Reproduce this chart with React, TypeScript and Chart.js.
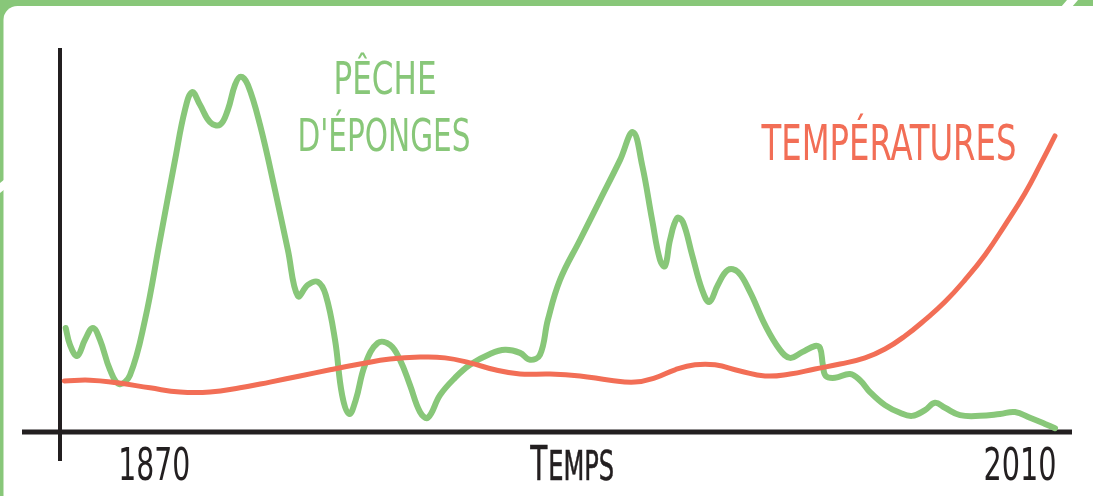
import React, { useEffect, useRef } from "react";
import { Chart, registerables } from "chart.js";

Chart.register(...registerables);

// ---- Data (time in years, values in arbitrary index units 0–100) ----
const spongeYears = [
  1870.8, 1871.4, 1872.4, 1873.5, 1874.6, 1875.6, 1877.0, 1878.3, 1879.8, 1881.9,
  1884.0, 1886.1, 1887.5, 1888.5, 1889.6, 1891.0, 1892.4, 1893.5, 1894.5, 1895.3,
  1896.3, 1898.0, 1900.1, 1901.9, 1903.3, 1904.7, 1906.1, 1907.2, 1908.5, 1909.5,
  1910.5, 1911.4, 1912.7, 1914.5, 1916.2, 1917.6, 1919.0, 1920.4, 1921.5, 1923.2,
  1925.3, 1927.4, 1930.2, 1932.3, 1934.4, 1935.8, 1937.2, 1938.3, 1940.0, 1942.8,
  1945.6, 1948.4, 1950.2, 1951.5, 1952.9, 1954.0, 1954.7, 1955.4, 1956.4, 1957.2,
  1958.5, 1959.9, 1960.9, 1962.1, 1963.5, 1964.9, 1966.6, 1968.7, 1970.8, 1972.2,
  1973.9, 1975.7, 1976.4, 1976.8, 1977.2, 1978.5, 1980.6, 1982.0, 1983.4, 1985.5,
  1987.6, 1989.3, 1991.1, 1992.5, 1993.9, 1996.0, 1998.8, 2001.6, 2003.7, 2005.8,
  2007.9, 2009.3,
];
const spongeValues = [
  27.1, 22.7, 19.8, 24.0, 27.1, 24.0, 16.2, 12.5, 14.8, 29.2,
  50.0, 70.8, 83.9, 88.5, 85.2, 80.7, 80.0, 83.9, 90.4, 92.5,
  90.4, 80.0, 63.0, 47.4, 35.4, 38.3, 39.1, 35.7, 24.0, 9.6,
  4.7, 8.3, 17.5, 23.2, 22.7, 18.8, 12.2, 5.2, 3.7, 9.6,
  14.1, 17.5, 20.3, 21.4, 20.6, 18.8, 20.1, 29.2, 39.6, 50.0,
  60.4, 70.8, 78.1, 69.5, 55.2, 44.8, 43.2, 50.0, 55.7, 54.7,
  46.1, 37.0, 33.9, 38.3, 42.2, 41.7, 36.5, 27.9, 21.4, 19.3,
  20.8, 22.4, 21.9, 17.5, 14.6, 14.1, 15.1, 13.5, 10.4, 7.0,
  5.0, 4.2, 5.7, 7.6, 6.3, 4.4, 4.2, 4.7, 5.2, 3.7,
  2.1, 1.0,
];

const tempYears = [
  1870.6, 1874.2, 1878.0, 1882.6, 1886.8, 1891.0, 1895.2, 1899.4, 1903.6, 1907.8,
  1912.0, 1916.2, 1920.4, 1923.9, 1927.4, 1930.9, 1934.4, 1938.6, 1942.8, 1947.0,
  1950.5, 1953.3, 1956.1, 1958.9, 1961.7, 1965.2, 1968.7, 1972.2, 1975.7, 1979.2,
  1982.7, 1985.5, 1988.3, 1991.1, 1993.9, 1996.7, 1999.5, 2002.3, 2005.1, 2007.2,
  2009.3,
];
const tempValues = [
  13.3, 13.5, 12.8, 11.5, 10.4, 10.4, 11.5, 13.0, 14.6, 16.2,
  17.7, 19.0, 19.5, 19.3, 18.0, 16.2, 15.1, 15.1, 14.6, 13.5,
  13.0, 14.1, 16.2, 17.5, 17.5, 15.9, 14.6, 15.1, 16.4, 17.7,
  19.3, 21.6, 25.0, 29.2, 33.9, 39.6, 46.1, 53.9, 62.2, 69.5,
  77.1,
];

const tickYears = [1883.2, 1941.7, 2004.4];
const tickLabels = ["1870", "TEMPS", "2010"];

const seriesLabels = ["PÊCHE", "D'ÉPONGES", "TEMPÉRATURES"];

const GREEN = "#88C779";
const RED = "#F26E56";
const INK = "#231F20";
const FONT = "'DejaVu Sans Condensed', 'DejaVu Sans', sans-serif";

function drawFitted(
  ctx: CanvasRenderingContext2D,
  text: string,
  x: number,
  baseline: number,
  capH: number,
  width: number,
  color: string,
  align: CanvasTextAlign = "center",
  extra = 0
) {
  const size = capH / 0.73;
  ctx.save();
  ctx.font = `${size}px ${FONT}`;
  const w = ctx.measureText(text).width;
  ctx.translate(x, baseline);
  ctx.scale(width / w, 1);
  ctx.fillStyle = color;
  ctx.strokeStyle = color;
  ctx.textAlign = align;
  ctx.textBaseline = "alphabetic";
  ctx.fillText(text, 0, 0);
  if (extra > 0) {
    ctx.lineWidth = extra;
    ctx.strokeText(text, 0, 0);
  }
  ctx.restore();
}

const framePlugin = {
  id: "frameAndAxes",
  beforeDraw(chart: any) {
    const { ctx, width, height } = chart;
    ctx.save();
    ctx.fillStyle = GREEN;
    ctx.fillRect(0, 0, width, height);
    ctx.fillStyle = "#ffffff";
    ctx.beginPath();
    (ctx as any).roundRect(3.5, 6, width + 50, height + 50, 14);
    ctx.fill();
    // breaks in the hand-drawn frame
    ctx.beginPath();
    ctx.moveTo(1067, 0);
    ctx.lineTo(1078, 0);
    ctx.lineTo(1072, 7);
    ctx.lineTo(1061, 7);
    ctx.closePath();
    ctx.fill();
    ctx.beginPath();
    ctx.moveTo(0, 183);
    ctx.lineTo(5, 179);
    ctx.lineTo(5, 189);
    ctx.lineTo(0, 193);
    ctx.closePath();
    ctx.fill();
    ctx.restore();
  },
  beforeDatasetsDraw(chart: any) {
    const { ctx, chartArea } = chart;
    const x0 = chart.scales.x.getPixelForValue(chart.scales.x.min);
    const y0 = chart.scales.y.getPixelForValue(0);
    ctx.save();
    ctx.strokeStyle = INK;
    ctx.lineCap = "butt";
    ctx.lineWidth = 4;
    ctx.beginPath();
    ctx.moveTo(x0, chartArea.top);
    ctx.lineTo(x0, y0 + 29);
    ctx.stroke();
    ctx.lineWidth = 5;
    ctx.beginPath();
    ctx.moveTo(x0 - 38, y0);
    ctx.lineTo(chartArea.right + 12, y0);
    ctx.stroke();
    ctx.restore();
  },
  afterDraw(chart: any) {
    const { ctx } = chart;
    const xs = chart.scales.x;
    // tick labels
    drawFitted(ctx, tickLabels[0], xs.getPixelForValue(tickYears[0]), 480, 33, 72, INK);
    drawFitted(ctx, tickLabels[2], xs.getPixelForValue(tickYears[2]), 480, 33, 73, INK);
    // small-caps "Temps"
    const cx = xs.getPixelForValue(tickYears[1]);
    const first = tickLabels[1].slice(0, 1);
    const rest = tickLabels[1].slice(1);
    drawFitted(ctx, first, cx - 42, 480, 35, 17, INK, "left", 0.6);
    drawFitted(ctx, rest, cx - 24, 480, 30, 66, INK, "left", 0.6);
    // series labels
    drawFitted(ctx, seriesLabels[0], 385, 94, 32, 103, GREEN);
    drawFitted(ctx, seriesLabels[1], 384, 151, 33, 173, GREEN);
    drawFitted(ctx, seriesLabels[2], 889, 160, 36, 255, RED);
  },
};

export default function App() {
  const ref = useRef<HTMLCanvasElement>(null);
  useEffect(() => {
    document.body.style.margin = "0";
    const canvas = ref.current!;
    const chart = new Chart(canvas, {
      type: "line",
      data: {
        datasets: [
          {
            label: "Températures",
            data: tempYears.map((x, i) => ({ x, y: tempValues[i] })),
            borderColor: RED,
            borderWidth: 5,
            pointRadius: 0,
            tension: 0.45,
            borderCapStyle: "round",
            borderJoinStyle: "round",
            fill: false,
          },
          {
            label: "Pêche d'éponges",
            data: spongeYears.map((x, i) => ({ x, y: spongeValues[i] })),
            borderColor: GREEN,
            borderWidth: 6,
            pointRadius: 0,
            tension: 0.4,
            borderCapStyle: "round",
            borderJoinStyle: "round",
            fill: false,
          },
        ],
      },
      options: {
        responsive: false,
        animation: false,
        layout: { padding: { left: 60, right: 33, top: 48, bottom: 64 } },
        plugins: { legend: { display: false }, tooltip: { enabled: false } },
        events: [],
        scales: {
          x: { type: "linear", min: 1870, max: 2010, display: false },
          y: { type: "linear", min: 0, max: 100, display: false },
        },
      },
      plugins: [framePlugin],
    } as any);
    return () => chart.destroy();
  }, []);
  return (
    <div style={{ width: 1093, height: 496 }}>
      <canvas ref={ref} width={1093} height={496} style={{ display: "block" }} />
    </div>
  );
}
